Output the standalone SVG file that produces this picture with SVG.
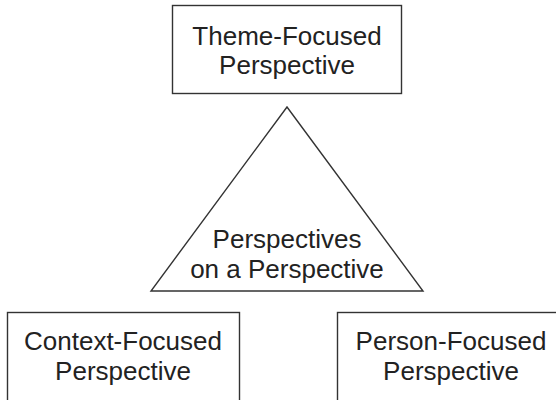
<svg xmlns="http://www.w3.org/2000/svg" width="556" height="400" viewBox="0 0 556 400">
<style>
.box{fill:#fff;stroke:#333;stroke-width:1.4}
.t{font-family:"Liberation Sans",Arial,sans-serif;font-size:26px;fill:#222;text-anchor:middle}
</style>
<rect width="556" height="400" fill="#fff"/>
<g id="connectors"></g>
<g id="theme">
<rect class="box" x="172.5" y="5.5" width="229" height="88"/>
<text class="t" x="287" y="45">Theme-Focused</text>
<text class="t" x="287" y="74">Perspective</text>
</g>
<g id="center">
<polygon class="box" points="287,107 151,291 423,291"/>
<text class="t" x="287" y="248">Perspectives</text>
<text class="t" x="287" y="278">on a Perspective</text>
</g>
<g id="context">
<rect class="box" x="7.5" y="312.5" width="232" height="100"/>
<text class="t" x="123" y="350">Context-Focused</text>
<text class="t" x="123" y="380">Perspective</text>
</g>
<g id="person">
<rect class="box" x="337.5" y="312.5" width="230" height="100"/>
<text class="t" x="451" y="350">Person-Focused</text>
<text class="t" x="451" y="380">Perspective</text>
</g>
</svg>
